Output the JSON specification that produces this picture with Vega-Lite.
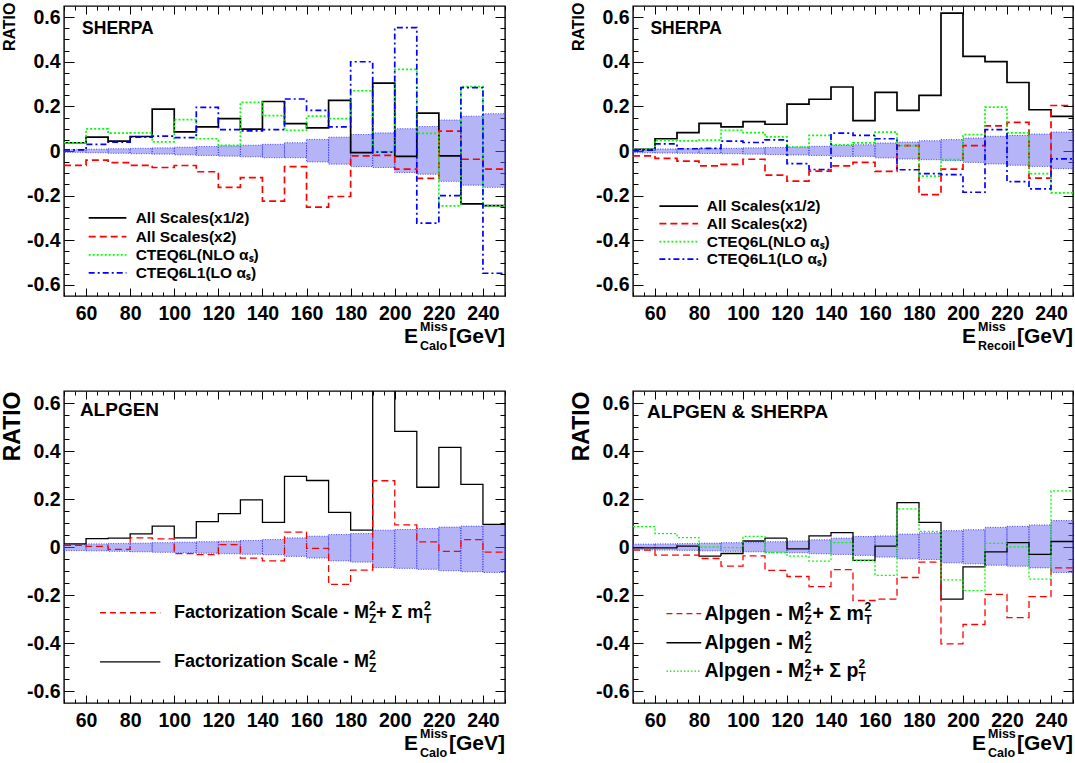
{
  "$schema": "https://vega.github.io/schema/vega-lite/v6.json",
  "background": "white",
  "padding": {"left": 0, "top": 1, "right": 0, "bottom": 0},
  "config": {
    "view": {"stroke": "#000000", "strokeWidth": 1.4},
    "axis": {"labelFont": "Liberation Sans", "labelFontWeight": "bold", "labelFontSize": 19.5, "labelColor": "#000000", "domain": false, "grid": false, "tickColor": "#000000", "tickWidth": 1, "titleFont": "Liberation Sans", "titleFontWeight": "bold", "titleColor": "#000000"},
    "text": {"font": "Liberation Sans", "fontWeight": "bold", "color": "#000000"},
    "style": {
      "pa": {"fontSize": 17.5, "align": "left", "baseline": "middle"},
      "pb": {"fontSize": 19, "align": "left", "baseline": "middle"},
      "la": {"fontSize": 15.5, "align": "left", "baseline": "middle"},
      "lb": {"fontSize": 18, "align": "left", "baseline": "middle"},
      "lc": {"fontSize": 19.5, "align": "left", "baseline": "middle"},
      "ls": {"fontSize": 12, "align": "left", "baseline": "middle"},
      "xb": {"fontSize": 21, "baseline": "alphabetic"},
      "xs": {"fontSize": 12.5, "baseline": "alphabetic", "align": "left"}
    }
  },
  "datasets": {
    "tl": [
      {"e": 50, "e2": 60, "k": 0.037, "r": -0.064, "g": 0.037, "b": 0.005, "lo": -0.006, "hi": 0.006},
      {"e": 60, "e2": 70, "k": 0.062, "r": -0.041, "g": 0.099, "b": 0.030, "lo": -0.008, "hi": 0.008},
      {"e": 70, "e2": 80, "k": 0.044, "r": -0.052, "g": 0.080, "b": 0.040, "lo": -0.010, "hi": 0.010},
      {"e": 80, "e2": 90, "k": 0.065, "r": -0.064, "g": 0.081, "b": 0.062, "lo": -0.012, "hi": 0.012},
      {"e": 90, "e2": 100, "k": 0.188, "r": -0.074, "g": 0.041, "b": 0.067, "lo": -0.014, "hi": 0.014},
      {"e": 100, "e2": 110, "k": 0.086, "r": -0.065, "g": 0.141, "b": 0.060, "lo": -0.017, "hi": 0.017},
      {"e": 110, "e2": 120, "k": 0.108, "r": -0.093, "g": 0.055, "b": 0.196, "lo": -0.020, "hi": 0.020},
      {"e": 120, "e2": 130, "k": 0.145, "r": -0.163, "g": 0.025, "b": 0.096, "lo": -0.023, "hi": 0.023},
      {"e": 130, "e2": 140, "k": 0.098, "r": -0.119, "g": 0.218, "b": 0.090, "lo": -0.026, "hi": 0.026},
      {"e": 140, "e2": 150, "k": 0.222, "r": -0.225, "g": 0.159, "b": 0.096, "lo": -0.030, "hi": 0.030},
      {"e": 150, "e2": 160, "k": 0.123, "r": -0.070, "g": 0.093, "b": 0.233, "lo": -0.030, "hi": 0.037},
      {"e": 160, "e2": 170, "k": 0.104, "r": -0.252, "g": 0.156, "b": 0.182, "lo": -0.049, "hi": 0.052},
      {"e": 170, "e2": 180, "k": 0.227, "r": -0.204, "g": 0.145, "b": 0.108, "lo": -0.059, "hi": 0.062},
      {"e": 180, "e2": 190, "k": -0.007, "r": -0.022, "g": 0.270, "b": 0.400, "lo": -0.070, "hi": 0.074},
      {"e": 190, "e2": 200, "k": 0.304, "r": -0.020, "g": -0.003, "b": -0.005, "lo": -0.074, "hi": 0.081},
      {"e": 200, "e2": 210, "k": -0.024, "r": -0.081, "g": 0.366, "b": 0.553, "lo": -0.096, "hi": 0.100},
      {"e": 210, "e2": 220, "k": 0.170, "r": -0.123, "g": 0.079, "b": -0.323, "lo": -0.104, "hi": 0.110},
      {"e": 220, "e2": 230, "k": -0.022, "r": 0.089, "g": -0.246, "b": -0.200, "lo": -0.136, "hi": 0.139},
      {"e": 230, "e2": 240, "k": -0.237, "r": -0.037, "g": 0.289, "b": 0.284, "lo": -0.153, "hi": 0.156},
      {"e": 240, "e2": 250, "k": -0.245, "r": -0.081, "g": -0.246, "b": -0.548, "lo": -0.163, "hi": 0.167},
      {"e": 250, "k": -0.245, "r": -0.081, "g": -0.246, "b": -0.548}
    ],
    "tr": [
      {"e": 50, "e2": 60, "k": 0.007, "r": -0.022, "g": 0.007, "b": 0.004, "lo": -0.008, "hi": 0.008},
      {"e": 60, "e2": 70, "k": 0.055, "r": -0.033, "g": 0.048, "b": 0.032, "lo": -0.009, "hi": 0.009},
      {"e": 70, "e2": 80, "k": 0.082, "r": -0.045, "g": 0.045, "b": 0.010, "lo": -0.010, "hi": 0.010},
      {"e": 80, "e2": 90, "k": 0.124, "r": -0.067, "g": 0.049, "b": 0.012, "lo": -0.011, "hi": 0.011},
      {"e": 90, "e2": 100, "k": 0.108, "r": -0.060, "g": 0.093, "b": 0.044, "lo": -0.012, "hi": 0.012},
      {"e": 100, "e2": 110, "k": 0.132, "r": -0.037, "g": 0.082, "b": 0.038, "lo": -0.014, "hi": 0.014},
      {"e": 110, "e2": 120, "k": 0.120, "r": -0.108, "g": 0.063, "b": 0.050, "lo": -0.016, "hi": 0.016},
      {"e": 120, "e2": 130, "k": 0.210, "r": -0.135, "g": 0.018, "b": -0.057, "lo": -0.018, "hi": 0.018},
      {"e": 130, "e2": 140, "k": 0.232, "r": -0.090, "g": 0.070, "b": -0.083, "lo": -0.020, "hi": 0.021},
      {"e": 140, "e2": 150, "k": 0.287, "r": -0.067, "g": 0.028, "b": 0.080, "lo": -0.024, "hi": 0.025},
      {"e": 150, "e2": 160, "k": 0.136, "r": -0.051, "g": 0.036, "b": 0.070, "lo": -0.024, "hi": 0.028},
      {"e": 160, "e2": 170, "k": 0.263, "r": -0.091, "g": 0.085, "b": 0.055, "lo": -0.031, "hi": 0.036},
      {"e": 170, "e2": 180, "k": 0.182, "r": 0.024, "g": 0.024, "b": -0.084, "lo": -0.036, "hi": 0.040},
      {"e": 180, "e2": 190, "k": 0.249, "r": -0.196, "g": -0.113, "b": -0.101, "lo": -0.039, "hi": 0.046},
      {"e": 190, "e2": 200, "k": 0.618, "r": -0.081, "g": -0.039, "b": -0.106, "lo": -0.043, "hi": 0.051},
      {"e": 200, "e2": 210, "k": 0.424, "r": 0.024, "g": 0.073, "b": -0.185, "lo": -0.051, "hi": 0.058},
      {"e": 210, "e2": 220, "k": 0.401, "r": 0.113, "g": 0.197, "b": 0.096, "lo": -0.058, "hi": 0.066},
      {"e": 220, "e2": 230, "k": 0.307, "r": 0.128, "g": 0.081, "b": -0.137, "lo": -0.064, "hi": 0.070},
      {"e": 230, "e2": 240, "k": 0.185, "r": -0.122, "g": -0.101, "b": -0.170, "lo": -0.069, "hi": 0.076},
      {"e": 240, "e2": 250, "k": 0.155, "r": 0.204, "g": -0.188, "b": -0.035, "lo": -0.079, "hi": 0.085},
      {"e": 250, "k": 0.155, "r": 0.204, "g": -0.188, "b": -0.035}
    ],
    "bl": [
      {"e": 50, "e2": 60, "k": 0.013, "r": 0.007, "lo": -0.015, "hi": 0.012},
      {"e": 60, "e2": 70, "k": 0.035, "r": 0.003, "lo": -0.016, "hi": 0.013},
      {"e": 70, "e2": 80, "k": 0.037, "r": -0.010, "lo": -0.018, "hi": 0.015},
      {"e": 80, "e2": 90, "k": 0.055, "r": 0.038, "lo": -0.020, "hi": 0.016},
      {"e": 90, "e2": 100, "k": 0.087, "r": 0.034, "lo": -0.022, "hi": 0.018},
      {"e": 100, "e2": 110, "k": 0.038, "r": -0.028, "lo": -0.024, "hi": 0.020},
      {"e": 110, "e2": 120, "k": 0.106, "r": -0.032, "lo": -0.026, "hi": 0.022},
      {"e": 120, "e2": 130, "k": 0.139, "r": 0.010, "lo": -0.028, "hi": 0.024},
      {"e": 130, "e2": 140, "k": 0.196, "r": -0.046, "lo": -0.030, "hi": 0.027},
      {"e": 140, "e2": 150, "k": 0.103, "r": -0.058, "lo": -0.032, "hi": 0.031},
      {"e": 150, "e2": 160, "k": 0.294, "r": 0.062, "lo": -0.039, "hi": 0.038},
      {"e": 160, "e2": 170, "k": 0.277, "r": -0.006, "lo": -0.046, "hi": 0.045},
      {"e": 170, "e2": 180, "k": 0.144, "r": -0.156, "lo": -0.058, "hi": 0.052},
      {"e": 180, "e2": 190, "k": 0.070, "r": -0.096, "lo": -0.063, "hi": 0.056},
      {"e": 190, "e2": 200, "k": 0.700, "r": 0.276, "lo": -0.086, "hi": 0.070},
      {"e": 200, "e2": 210, "k": 0.482, "r": 0.092, "lo": -0.089, "hi": 0.073},
      {"e": 210, "e2": 220, "k": 0.249, "r": 0.021, "lo": -0.093, "hi": 0.077},
      {"e": 220, "e2": 230, "k": 0.415, "r": -0.018, "lo": -0.099, "hi": 0.083},
      {"e": 230, "e2": 240, "k": 0.261, "r": 0.031, "lo": -0.103, "hi": 0.087},
      {"e": 240, "e2": 250, "k": 0.094, "r": -0.021, "lo": -0.106, "hi": 0.094},
      {"e": 250, "k": 0.094, "r": -0.021}
    ],
    "br": [
      {"e": 50, "e2": 60, "k": -0.004, "r": -0.013, "g": 0.085, "lo": -0.012, "hi": 0.012},
      {"e": 60, "e2": 70, "k": -0.004, "r": -0.034, "g": 0.056, "lo": -0.013, "hi": 0.013},
      {"e": 70, "e2": 80, "k": 0.004, "r": -0.034, "g": 0.039, "lo": -0.014, "hi": 0.014},
      {"e": 80, "e2": 90, "k": -0.038, "r": -0.048, "g": 0.000, "lo": -0.016, "hi": 0.016},
      {"e": 90, "e2": 100, "k": -0.027, "r": -0.080, "g": -0.003, "lo": -0.018, "hi": 0.018},
      {"e": 100, "e2": 110, "k": 0.025, "r": -0.037, "g": 0.044, "lo": -0.020, "hi": 0.020},
      {"e": 110, "e2": 120, "k": 0.037, "r": -0.097, "g": -0.024, "lo": -0.022, "hi": 0.022},
      {"e": 120, "e2": 130, "k": -0.008, "r": -0.123, "g": -0.038, "lo": -0.024, "hi": 0.025},
      {"e": 130, "e2": 140, "k": 0.046, "r": -0.165, "g": -0.059, "lo": -0.028, "hi": 0.030},
      {"e": 140, "e2": 150, "k": 0.060, "r": -0.094, "g": 0.018, "lo": -0.031, "hi": 0.037},
      {"e": 150, "e2": 160, "k": -0.056, "r": -0.223, "g": -0.056, "lo": -0.035, "hi": 0.044},
      {"e": 160, "e2": 170, "k": 0.004, "r": -0.217, "g": -0.118, "lo": -0.042, "hi": 0.046},
      {"e": 170, "e2": 180, "k": 0.185, "r": -0.127, "g": 0.159, "lo": -0.049, "hi": 0.054},
      {"e": 180, "e2": 190, "k": 0.103, "r": -0.063, "g": 0.065, "lo": -0.052, "hi": 0.059},
      {"e": 190, "e2": 200, "k": -0.217, "r": -0.404, "g": -0.137, "lo": -0.066, "hi": 0.068},
      {"e": 200, "e2": 210, "k": -0.083, "r": -0.323, "g": -0.182, "lo": -0.070, "hi": 0.072},
      {"e": 210, "e2": 220, "k": -0.020, "r": -0.197, "g": 0.015, "lo": -0.076, "hi": 0.082},
      {"e": 220, "e2": 230, "k": 0.018, "r": -0.294, "g": 0.000, "lo": -0.080, "hi": 0.086},
      {"e": 230, "e2": 240, "k": -0.031, "r": -0.207, "g": -0.134, "lo": -0.087, "hi": 0.092},
      {"e": 240, "e2": 250, "k": 0.023, "r": -0.087, "g": 0.234, "lo": -0.106, "hi": 0.110},
      {"e": 250, "k": 0.023, "r": -0.087, "g": 0.234}
    ]
  },
  "columns": 2,
  "align": "none",
  "spacing": {"row": 35, "column": 62},
  "concat": [
    {
      "width": 441,
      "height": 290,
      "resolve": {"axis": {"x": "independent", "y": "independent"}},
      "layer": [
        {
          "data": {"name": "tl"},
          "transform": [{"filter": "isValid(datum.lo)"}],
          "mark": {"type": "rect", "fill": "#6a6aee", "fillOpacity": 0.5, "stroke": "#1f1fff", "strokeWidth": 0.8, "strokeDash": [1, 1.5]},
          "encoding": {
            "x": {"field": "e", "type": "quantitative", "scale": {"domain": [50, 250], "nice": false, "zero": false},
              "axis": {"orient": "bottom", "values": [50,55,60,65,70,75,80,85,90,95,100,105,110,115,120,125,130,135,140,145,150,155,160,165,170,175,180,185,190,195,200,205,210,215,220,225,230,235,240,245,250], "labelExpr": "datum.value % 20 === 0 ? datum.label : ''", "tickSize": {"condition": {"test": "datum.value % 20 === 0", "value": -8}, "value": -4}, "labelPadding": 16, "labelOverlap": false, "labelFlush": false, "title": null}},
            "x2": {"field": "e2"},
            "y": {"field": "lo", "type": "quantitative", "scale": {"domain": [-0.65, 0.65], "nice": false, "zero": false},
              "axis": {"orient": "left", "values": [-0.6,-0.55,-0.5,-0.45,-0.4,-0.35,-0.3,-0.25,-0.2,-0.15,-0.1,-0.05,0,0.05,0.1,0.15,0.2,0.25,0.3,0.35,0.4,0.45,0.5,0.55,0.6], "labelExpr": "round(datum.value * 100) % 20 === 0 ? (datum.value === 0 ? '0' : (datum.value < 0 ? '-' : '') + format(abs(datum.value), '.1f')) : ''", "tickSize": {"condition": {"test": "round(datum.value * 100) % 20 === 0", "value": -10}, "value": -5}, "labelPadding": 14, "labelOverlap": false, "labelFlush": false, "title": "RATIO", "titleFontSize": 16, "titleAnchor": "end", "titlePadding": 9, "titleY": -4}},
            "y2": {"field": "hi"}
          }
        },
        {
          "data": {"name": "tl"},
          "transform": [{"fold": ["k", "r", "g", "b"], "as": ["s", "v"]}],
          "mark": {"type": "line", "interpolate": "step-after", "clip": true, "strokeWidth": 1.7},
          "encoding": {
            "x": {"field": "e", "type": "quantitative", "scale": {"domain": [50, 250], "nice": false, "zero": false},
              "axis": {"orient": "top", "values": [50,55,60,65,70,75,80,85,90,95,100,105,110,115,120,125,130,135,140,145,150,155,160,165,170,175,180,185,190,195,200,205,210,215,220,225,230,235,240,245,250], "labels": false, "title": null, "tickSize": {"condition": {"test": "datum.value % 20 === 0", "value": -8}, "value": -4}}},
            "y": {"field": "v", "type": "quantitative", "scale": {"domain": [-0.65, 0.65], "nice": false, "zero": false},
              "axis": {"orient": "right", "values": [-0.6,-0.55,-0.5,-0.45,-0.4,-0.35,-0.3,-0.25,-0.2,-0.15,-0.1,-0.05,0,0.05,0.1,0.15,0.2,0.25,0.3,0.35,0.4,0.45,0.5,0.55,0.6], "labels": false, "title": null, "tickSize": {"condition": {"test": "round(datum.value * 100) % 20 === 0", "value": -10}, "value": -5}}},
            "color": {"field": "s", "type": "nominal", "scale": {"domain": ["k", "r", "g", "b"], "range": ["#000000", "#ff0000", "#00ff00", "#0000ff"]}, "legend": null},
            "strokeDash": {"field": "s", "type": "nominal", "scale": {"domain": ["k", "r", "g", "b"], "range": [[1, 0], [7, 4], [2, 2], [6, 3, 2, 3]]}, "legend": null}
          }
        },
        {
          "data": {"values": [{}]},
          "layer": [
            {"mark": {"type": "text", "style": "pa", "text": "SHERPA"}, "encoding": {"x": {"datum": 58.2, "axis": null}, "y": {"datum": 0.547, "axis": null}}},
            {"mark": {"type": "rule", "color": "#000000", "strokeWidth": 1.7}, "encoding": {"x": {"datum": 61.2, "axis": null}, "x2": {"datum": 78.3}, "y": {"datum": -0.3, "axis": null}}},
            {"mark": {"type": "rule", "color": "#ff0000", "strokeWidth": 1.7, "strokeDash": [7, 4]}, "encoding": {"x": {"datum": 61.2, "axis": null}, "x2": {"datum": 78.3}, "y": {"datum": -0.384, "axis": null}}},
            {"mark": {"type": "rule", "color": "#00ff00", "strokeWidth": 1.7, "strokeDash": [2, 2]}, "encoding": {"x": {"datum": 61.2, "axis": null}, "x2": {"datum": 78.3}, "y": {"datum": -0.466, "axis": null}}},
            {"mark": {"type": "rule", "color": "#0000ff", "strokeWidth": 1.7, "strokeDash": [6, 3, 2, 3]}, "encoding": {"x": {"datum": 61.2, "axis": null}, "x2": {"datum": 78.3}, "y": {"datum": -0.546, "axis": null}}},
            {"mark": {"type": "text", "style": "la", "text": "All Scales(x1/2)"}, "encoding": {"x": {"datum": 82.5, "axis": null}, "y": {"datum": -0.3, "axis": null}}},
            {"mark": {"type": "text", "style": "la", "text": "All Scales(x2)"}, "encoding": {"x": {"datum": 82.5, "axis": null}, "y": {"datum": -0.384, "axis": null}}},
            {"mark": {"type": "text", "style": "la", "text": "CTEQ6L(NLO αₛ)"}, "encoding": {"x": {"datum": 82.5, "axis": null}, "y": {"datum": -0.466, "axis": null}}},
            {"mark": {"type": "text", "style": "la", "text": "CTEQ6L1(LO αₛ)"}, "encoding": {"x": {"datum": 82.5, "axis": null}, "y": {"datum": -0.546, "axis": null}}},
            {"mark": {"type": "text", "style": "xb", "text": "[GeV]", "align": "right", "dy": 47}, "encoding": {"x": {"datum": 250, "axis": null}, "y": {"datum": -0.65, "axis": null}}},
            {"mark": {"type": "text", "style": "xs", "text": "Miss", "dx": -85, "dy": 35}, "encoding": {"x": {"datum": 250, "axis": null}, "y": {"datum": -0.65, "axis": null}}},
            {"mark": {"type": "text", "style": "xs", "text": "Calo", "dx": -85, "dy": 54}, "encoding": {"x": {"datum": 250, "axis": null}, "y": {"datum": -0.65, "axis": null}}},
            {"mark": {"type": "text", "style": "xb", "text": "E", "align": "right", "dx": -87, "dy": 47}, "encoding": {"x": {"datum": 250, "axis": null}, "y": {"datum": -0.65, "axis": null}}}
          ]
        }
      ]
    },
    {
      "width": 440,
      "height": 290,
      "resolve": {"axis": {"x": "independent", "y": "independent"}},
      "layer": [
        {
          "data": {"name": "tr"},
          "transform": [{"filter": "isValid(datum.lo)"}],
          "mark": {"type": "rect", "fill": "#6a6aee", "fillOpacity": 0.5, "stroke": "#1f1fff", "strokeWidth": 0.8, "strokeDash": [1, 1.5]},
          "encoding": {
            "x": {"field": "e", "type": "quantitative", "scale": {"domain": [50, 250], "nice": false, "zero": false},
              "axis": {"orient": "bottom", "values": [50,55,60,65,70,75,80,85,90,95,100,105,110,115,120,125,130,135,140,145,150,155,160,165,170,175,180,185,190,195,200,205,210,215,220,225,230,235,240,245,250], "labelExpr": "datum.value % 20 === 0 ? datum.label : ''", "tickSize": {"condition": {"test": "datum.value % 20 === 0", "value": -8}, "value": -4}, "labelPadding": 16, "labelOverlap": false, "labelFlush": false, "title": null}},
            "x2": {"field": "e2"},
            "y": {"field": "lo", "type": "quantitative", "scale": {"domain": [-0.65, 0.65], "nice": false, "zero": false},
              "axis": {"orient": "left", "values": [-0.6,-0.55,-0.5,-0.45,-0.4,-0.35,-0.3,-0.25,-0.2,-0.15,-0.1,-0.05,0,0.05,0.1,0.15,0.2,0.25,0.3,0.35,0.4,0.45,0.5,0.55,0.6], "labelExpr": "round(datum.value * 100) % 20 === 0 ? (datum.value === 0 ? '0' : (datum.value < 0 ? '-' : '') + format(abs(datum.value), '.1f')) : ''", "tickSize": {"condition": {"test": "round(datum.value * 100) % 20 === 0", "value": -10}, "value": -5}, "labelPadding": 14, "labelOverlap": false, "labelFlush": false, "title": "RATIO", "titleFontSize": 16, "titleAnchor": "end", "titlePadding": 9, "titleY": -4}},
            "y2": {"field": "hi"}
          }
        },
        {
          "data": {"name": "tr"},
          "transform": [{"fold": ["k", "r", "g", "b"], "as": ["s", "v"]}],
          "mark": {"type": "line", "interpolate": "step-after", "clip": true, "strokeWidth": 1.7},
          "encoding": {
            "x": {"field": "e", "type": "quantitative", "scale": {"domain": [50, 250], "nice": false, "zero": false},
              "axis": {"orient": "top", "values": [50,55,60,65,70,75,80,85,90,95,100,105,110,115,120,125,130,135,140,145,150,155,160,165,170,175,180,185,190,195,200,205,210,215,220,225,230,235,240,245,250], "labels": false, "title": null, "tickSize": {"condition": {"test": "datum.value % 20 === 0", "value": -8}, "value": -4}}},
            "y": {"field": "v", "type": "quantitative", "scale": {"domain": [-0.65, 0.65], "nice": false, "zero": false},
              "axis": {"orient": "right", "values": [-0.6,-0.55,-0.5,-0.45,-0.4,-0.35,-0.3,-0.25,-0.2,-0.15,-0.1,-0.05,0,0.05,0.1,0.15,0.2,0.25,0.3,0.35,0.4,0.45,0.5,0.55,0.6], "labels": false, "title": null, "tickSize": {"condition": {"test": "round(datum.value * 100) % 20 === 0", "value": -10}, "value": -5}}},
            "color": {"field": "s", "type": "nominal", "scale": {"domain": ["k", "r", "g", "b"], "range": ["#000000", "#ff0000", "#00ff00", "#0000ff"]}, "legend": null},
            "strokeDash": {"field": "s", "type": "nominal", "scale": {"domain": ["k", "r", "g", "b"], "range": [[1, 0], [7, 4], [2, 2], [6, 3, 2, 3]]}, "legend": null}
          }
        },
        {
          "data": {"values": [{}]},
          "layer": [
            {"mark": {"type": "text", "style": "pa", "text": "SHERPA"}, "encoding": {"x": {"datum": 57.9, "axis": null}, "y": {"datum": 0.545, "axis": null}}},
            {"mark": {"type": "rule", "color": "#000000", "strokeWidth": 1.7}, "encoding": {"x": {"datum": 62, "axis": null}, "x2": {"datum": 79.6}, "y": {"datum": -0.247, "axis": null}}},
            {"mark": {"type": "rule", "color": "#ff0000", "strokeWidth": 1.7, "strokeDash": [7, 4]}, "encoding": {"x": {"datum": 62, "axis": null}, "x2": {"datum": 79.6}, "y": {"datum": -0.326, "axis": null}}},
            {"mark": {"type": "rule", "color": "#00ff00", "strokeWidth": 1.7, "strokeDash": [2, 2]}, "encoding": {"x": {"datum": 62, "axis": null}, "x2": {"datum": 79.6}, "y": {"datum": -0.406, "axis": null}}},
            {"mark": {"type": "rule", "color": "#0000ff", "strokeWidth": 1.7, "strokeDash": [6, 3, 2, 3]}, "encoding": {"x": {"datum": 62, "axis": null}, "x2": {"datum": 79.6}, "y": {"datum": -0.485, "axis": null}}},
            {"mark": {"type": "text", "style": "la", "text": "All Scales(x1/2)"}, "encoding": {"x": {"datum": 83.5, "axis": null}, "y": {"datum": -0.247, "axis": null}}},
            {"mark": {"type": "text", "style": "la", "text": "All Scales(x2)"}, "encoding": {"x": {"datum": 83.5, "axis": null}, "y": {"datum": -0.326, "axis": null}}},
            {"mark": {"type": "text", "style": "la", "text": "CTEQ6L(NLO αₛ)"}, "encoding": {"x": {"datum": 83.5, "axis": null}, "y": {"datum": -0.406, "axis": null}}},
            {"mark": {"type": "text", "style": "la", "text": "CTEQ6L1(LO αₛ)"}, "encoding": {"x": {"datum": 83.5, "axis": null}, "y": {"datum": -0.485, "axis": null}}},
            {"mark": {"type": "text", "style": "xb", "text": "[GeV]", "align": "right", "dy": 47}, "encoding": {"x": {"datum": 250, "axis": null}, "y": {"datum": -0.65, "axis": null}}},
            {"mark": {"type": "text", "style": "xs", "text": "Miss", "dx": -95, "dy": 35}, "encoding": {"x": {"datum": 250, "axis": null}, "y": {"datum": -0.65, "axis": null}}},
            {"mark": {"type": "text", "style": "xs", "text": "Recoil", "dx": -95, "dy": 54}, "encoding": {"x": {"datum": 250, "axis": null}, "y": {"datum": -0.65, "axis": null}}},
            {"mark": {"type": "text", "style": "xb", "text": "E", "align": "right", "dx": -97, "dy": 47}, "encoding": {"x": {"datum": 250, "axis": null}, "y": {"datum": -0.65, "axis": null}}}
          ]
        }
      ]
    },
    {
      "width": 441,
      "height": 312,
      "resolve": {"axis": {"x": "independent", "y": "independent"}},
      "layer": [
        {
          "data": {"name": "bl"},
          "transform": [{"filter": "isValid(datum.lo)"}],
          "mark": {"type": "rect", "fill": "#6a6aee", "fillOpacity": 0.5, "stroke": "#1f1fff", "strokeWidth": 0.8, "strokeDash": [1, 1.5]},
          "encoding": {
            "x": {"field": "e", "type": "quantitative", "scale": {"domain": [50, 250], "nice": false, "zero": false},
              "axis": {"orient": "bottom", "values": [50,55,60,65,70,75,80,85,90,95,100,105,110,115,120,125,130,135,140,145,150,155,160,165,170,175,180,185,190,195,200,205,210,215,220,225,230,235,240,245,250], "labelExpr": "datum.value % 20 === 0 ? datum.label : ''", "tickSize": {"condition": {"test": "datum.value % 20 === 0", "value": -8}, "value": -4}, "labelPadding": 16, "labelOverlap": false, "labelFlush": false, "title": null}},
            "x2": {"field": "e2"},
            "y": {"field": "lo", "type": "quantitative", "scale": {"domain": [-0.65, 0.65], "nice": false, "zero": false},
              "axis": {"orient": "left", "values": [-0.6,-0.55,-0.5,-0.45,-0.4,-0.35,-0.3,-0.25,-0.2,-0.15,-0.1,-0.05,0,0.05,0.1,0.15,0.2,0.25,0.3,0.35,0.4,0.45,0.5,0.55,0.6], "labelExpr": "round(datum.value * 100) % 20 === 0 ? (datum.value === 0 ? '0' : (datum.value < 0 ? '-' : '') + format(abs(datum.value), '.1f')) : ''", "tickSize": {"condition": {"test": "round(datum.value * 100) % 20 === 0", "value": -10}, "value": -5}, "labelPadding": 14, "labelOverlap": false, "labelFlush": false, "title": "RATIO", "titleFontSize": 23, "titleAnchor": "end", "titlePadding": 2}},
            "y2": {"field": "hi"}
          }
        },
        {
          "data": {"name": "bl"},
          "transform": [{"fold": ["k", "r"], "as": ["s", "v"]}],
          "mark": {"type": "line", "interpolate": "step-after", "clip": true, "strokeWidth": 1.3},
          "encoding": {
            "x": {"field": "e", "type": "quantitative", "scale": {"domain": [50, 250], "nice": false, "zero": false},
              "axis": {"orient": "top", "values": [50,55,60,65,70,75,80,85,90,95,100,105,110,115,120,125,130,135,140,145,150,155,160,165,170,175,180,185,190,195,200,205,210,215,220,225,230,235,240,245,250], "labels": false, "title": null, "tickSize": {"condition": {"test": "datum.value % 20 === 0", "value": -8}, "value": -4}}},
            "y": {"field": "v", "type": "quantitative", "scale": {"domain": [-0.65, 0.65], "nice": false, "zero": false},
              "axis": {"orient": "right", "values": [-0.6,-0.55,-0.5,-0.45,-0.4,-0.35,-0.3,-0.25,-0.2,-0.15,-0.1,-0.05,0,0.05,0.1,0.15,0.2,0.25,0.3,0.35,0.4,0.45,0.5,0.55,0.6], "labels": false, "title": null, "tickSize": {"condition": {"test": "round(datum.value * 100) % 20 === 0", "value": -10}, "value": -5}}},
            "color": {"field": "s", "type": "nominal", "scale": {"domain": ["r", "k"], "range": ["#ff0000", "#000000"]}, "legend": null},
            "strokeDash": {"field": "s", "type": "nominal", "scale": {"domain": ["r", "k"], "range": [[6, 4], [1, 0]]}, "legend": null}
          }
        },
        {
          "data": {"values": [{}]},
          "layer": [
            {"mark": {"type": "text", "style": "pb", "text": "ALPGEN"}, "encoding": {"x": {"datum": 57.2, "axis": null}, "y": {"datum": 0.571, "axis": null}}},
            {"mark": {"type": "rule", "color": "#ff0000", "strokeWidth": 1.3, "strokeDash": [6, 4]}, "encoding": {"x": {"datum": 66.3, "axis": null}, "x2": {"datum": 93.7}, "y": {"datum": -0.274, "axis": null}}},
            {"mark": {"type": "text", "style": "lb", "text": "Factorization Scale - M"}, "encoding": {"x": {"datum": 99.9, "axis": null}, "y": {"datum": -0.274, "axis": null}}},
            {"mark": {"type": "text", "style": "ls", "text": "Z", "dx": 195, "dy": 6}, "encoding": {"x": {"datum": 99.9, "axis": null}, "y": {"datum": -0.274, "axis": null}}},
            {"mark": {"type": "text", "style": "ls", "text": "2", "dx": 195, "dy": -7}, "encoding": {"x": {"datum": 99.9, "axis": null}, "y": {"datum": -0.274, "axis": null}}},
            {"mark": {"type": "text", "style": "lb", "text": "+ Σ m", "dx": 202}, "encoding": {"x": {"datum": 99.9, "axis": null}, "y": {"datum": -0.274, "axis": null}}},
            {"mark": {"type": "text", "style": "ls", "text": "T", "dx": 250, "dy": 6}, "encoding": {"x": {"datum": 99.9, "axis": null}, "y": {"datum": -0.274, "axis": null}}},
            {"mark": {"type": "text", "style": "ls", "text": "2", "dx": 250, "dy": -7}, "encoding": {"x": {"datum": 99.9, "axis": null}, "y": {"datum": -0.274, "axis": null}}},
            {"mark": {"type": "rule", "color": "#000000", "strokeWidth": 1.3}, "encoding": {"x": {"datum": 66.3, "axis": null}, "x2": {"datum": 93.7}, "y": {"datum": -0.479, "axis": null}}},
            {"mark": {"type": "text", "style": "lb", "text": "Factorization Scale - M"}, "encoding": {"x": {"datum": 99.9, "axis": null}, "y": {"datum": -0.479, "axis": null}}},
            {"mark": {"type": "text", "style": "ls", "text": "Z", "dx": 195, "dy": 6}, "encoding": {"x": {"datum": 99.9, "axis": null}, "y": {"datum": -0.479, "axis": null}}},
            {"mark": {"type": "text", "style": "ls", "text": "2", "dx": 195, "dy": -7}, "encoding": {"x": {"datum": 99.9, "axis": null}, "y": {"datum": -0.479, "axis": null}}},
            {"mark": {"type": "text", "style": "xb", "text": "[GeV]", "align": "right", "dy": 47}, "encoding": {"x": {"datum": 250, "axis": null}, "y": {"datum": -0.65, "axis": null}}},
            {"mark": {"type": "text", "style": "xs", "text": "Miss", "dx": -85, "dy": 35}, "encoding": {"x": {"datum": 250, "axis": null}, "y": {"datum": -0.65, "axis": null}}},
            {"mark": {"type": "text", "style": "xs", "text": "Calo", "dx": -85, "dy": 54}, "encoding": {"x": {"datum": 250, "axis": null}, "y": {"datum": -0.65, "axis": null}}},
            {"mark": {"type": "text", "style": "xb", "text": "E", "align": "right", "dx": -87, "dy": 47}, "encoding": {"x": {"datum": 250, "axis": null}, "y": {"datum": -0.65, "axis": null}}}
          ]
        }
      ]
    },
    {
      "width": 440,
      "height": 312,
      "resolve": {"axis": {"x": "independent", "y": "independent"}},
      "layer": [
        {
          "data": {"name": "br"},
          "transform": [{"filter": "isValid(datum.lo)"}],
          "mark": {"type": "rect", "fill": "#6a6aee", "fillOpacity": 0.5, "stroke": "#1f1fff", "strokeWidth": 0.8, "strokeDash": [1, 1.5]},
          "encoding": {
            "x": {"field": "e", "type": "quantitative", "scale": {"domain": [50, 250], "nice": false, "zero": false},
              "axis": {"orient": "bottom", "values": [50,55,60,65,70,75,80,85,90,95,100,105,110,115,120,125,130,135,140,145,150,155,160,165,170,175,180,185,190,195,200,205,210,215,220,225,230,235,240,245,250], "labelExpr": "datum.value % 20 === 0 ? datum.label : ''", "tickSize": {"condition": {"test": "datum.value % 20 === 0", "value": -8}, "value": -4}, "labelPadding": 16, "labelOverlap": false, "labelFlush": false, "title": null}},
            "x2": {"field": "e2"},
            "y": {"field": "lo", "type": "quantitative", "scale": {"domain": [-0.65, 0.65], "nice": false, "zero": false},
              "axis": {"orient": "left", "values": [-0.6,-0.55,-0.5,-0.45,-0.4,-0.35,-0.3,-0.25,-0.2,-0.15,-0.1,-0.05,0,0.05,0.1,0.15,0.2,0.25,0.3,0.35,0.4,0.45,0.5,0.55,0.6], "labelExpr": "round(datum.value * 100) % 20 === 0 ? (datum.value === 0 ? '0' : (datum.value < 0 ? '-' : '') + format(abs(datum.value), '.1f')) : ''", "tickSize": {"condition": {"test": "round(datum.value * 100) % 20 === 0", "value": -10}, "value": -5}, "labelPadding": 14, "labelOverlap": false, "labelFlush": false, "title": "RATIO", "titleFontSize": 23, "titleAnchor": "end", "titlePadding": 2}},
            "y2": {"field": "hi"}
          }
        },
        {
          "data": {"name": "br"},
          "transform": [{"fold": ["k", "r", "g"], "as": ["s", "v"]}],
          "mark": {"type": "line", "interpolate": "step-after", "clip": true, "strokeWidth": 1.3},
          "encoding": {
            "x": {"field": "e", "type": "quantitative", "scale": {"domain": [50, 250], "nice": false, "zero": false},
              "axis": {"orient": "top", "values": [50,55,60,65,70,75,80,85,90,95,100,105,110,115,120,125,130,135,140,145,150,155,160,165,170,175,180,185,190,195,200,205,210,215,220,225,230,235,240,245,250], "labels": false, "title": null, "tickSize": {"condition": {"test": "datum.value % 20 === 0", "value": -8}, "value": -4}}},
            "y": {"field": "v", "type": "quantitative", "scale": {"domain": [-0.65, 0.65], "nice": false, "zero": false},
              "axis": {"orient": "right", "values": [-0.6,-0.55,-0.5,-0.45,-0.4,-0.35,-0.3,-0.25,-0.2,-0.15,-0.1,-0.05,0,0.05,0.1,0.15,0.2,0.25,0.3,0.35,0.4,0.45,0.5,0.55,0.6], "labels": false, "title": null, "tickSize": {"condition": {"test": "round(datum.value * 100) % 20 === 0", "value": -10}, "value": -5}}},
            "color": {"field": "s", "type": "nominal", "scale": {"domain": ["r", "k", "g"], "range": ["#ff0000", "#000000", "#00dd00"]}, "legend": null},
            "strokeDash": {"field": "s", "type": "nominal", "scale": {"domain": ["r", "k", "g"], "range": [[6, 4], [1, 0], [1.5, 2]]}, "legend": null}
          }
        },
        {
          "data": {"values": [{}]},
          "layer": [
            {"mark": {"type": "text", "style": "pb", "text": "ALPGEN & SHERPA"}, "encoding": {"x": {"datum": 56.4, "axis": null}, "y": {"datum": 0.5625, "axis": null}}},
            {"mark": {"type": "rule", "color": "#ff0000", "strokeWidth": 1.3, "strokeDash": [6, 4]}, "encoding": {"x": {"datum": 65.2, "axis": null}, "x2": {"datum": 81}, "y": {"datum": -0.278, "axis": null}}},
            {"mark": {"type": "text", "style": "lc", "text": "Alpgen - M"}, "encoding": {"x": {"datum": 82.5, "axis": null}, "y": {"datum": -0.278, "axis": null}}},
            {"mark": {"type": "text", "style": "ls", "text": "Z", "dx": 100, "dy": 6}, "encoding": {"x": {"datum": 82.5, "axis": null}, "y": {"datum": -0.278, "axis": null}}},
            {"mark": {"type": "text", "style": "ls", "text": "2", "dx": 100, "dy": -7}, "encoding": {"x": {"datum": 82.5, "axis": null}, "y": {"datum": -0.278, "axis": null}}},
            {"mark": {"type": "text", "style": "lc", "text": "+ Σ m", "dx": 108}, "encoding": {"x": {"datum": 82.5, "axis": null}, "y": {"datum": -0.278, "axis": null}}},
            {"mark": {"type": "text", "style": "ls", "text": "T", "dx": 160, "dy": 6}, "encoding": {"x": {"datum": 82.5, "axis": null}, "y": {"datum": -0.278, "axis": null}}},
            {"mark": {"type": "text", "style": "ls", "text": "2", "dx": 160, "dy": -7}, "encoding": {"x": {"datum": 82.5, "axis": null}, "y": {"datum": -0.278, "axis": null}}},
            {"mark": {"type": "rule", "color": "#000000", "strokeWidth": 1.3}, "encoding": {"x": {"datum": 65.2, "axis": null}, "x2": {"datum": 81}, "y": {"datum": -0.399, "axis": null}}},
            {"mark": {"type": "text", "style": "lc", "text": "Alpgen - M"}, "encoding": {"x": {"datum": 82.5, "axis": null}, "y": {"datum": -0.399, "axis": null}}},
            {"mark": {"type": "text", "style": "ls", "text": "Z", "dx": 100, "dy": 6}, "encoding": {"x": {"datum": 82.5, "axis": null}, "y": {"datum": -0.399, "axis": null}}},
            {"mark": {"type": "text", "style": "ls", "text": "2", "dx": 100, "dy": -7}, "encoding": {"x": {"datum": 82.5, "axis": null}, "y": {"datum": -0.399, "axis": null}}},
            {"mark": {"type": "rule", "color": "#00dd00", "strokeWidth": 1.3, "strokeDash": [1.5, 2]}, "encoding": {"x": {"datum": 65.2, "axis": null}, "x2": {"datum": 81}, "y": {"datum": -0.517, "axis": null}}},
            {"mark": {"type": "text", "style": "lc", "text": "Alpgen - M"}, "encoding": {"x": {"datum": 82.5, "axis": null}, "y": {"datum": -0.517, "axis": null}}},
            {"mark": {"type": "text", "style": "ls", "text": "Z", "dx": 100, "dy": 6}, "encoding": {"x": {"datum": 82.5, "axis": null}, "y": {"datum": -0.517, "axis": null}}},
            {"mark": {"type": "text", "style": "ls", "text": "2", "dx": 100, "dy": -7}, "encoding": {"x": {"datum": 82.5, "axis": null}, "y": {"datum": -0.517, "axis": null}}},
            {"mark": {"type": "text", "style": "lc", "text": "+ Σ p", "dx": 108}, "encoding": {"x": {"datum": 82.5, "axis": null}, "y": {"datum": -0.517, "axis": null}}},
            {"mark": {"type": "text", "style": "ls", "text": "T", "dx": 154, "dy": 6}, "encoding": {"x": {"datum": 82.5, "axis": null}, "y": {"datum": -0.517, "axis": null}}},
            {"mark": {"type": "text", "style": "ls", "text": "2", "dx": 154, "dy": -7}, "encoding": {"x": {"datum": 82.5, "axis": null}, "y": {"datum": -0.517, "axis": null}}},
            {"mark": {"type": "text", "style": "xb", "text": "[GeV]", "align": "right", "dy": 47}, "encoding": {"x": {"datum": 250, "axis": null}, "y": {"datum": -0.65, "axis": null}}},
            {"mark": {"type": "text", "style": "xs", "text": "Miss", "dx": -85, "dy": 35}, "encoding": {"x": {"datum": 250, "axis": null}, "y": {"datum": -0.65, "axis": null}}},
            {"mark": {"type": "text", "style": "xs", "text": "Calo", "dx": -85, "dy": 54}, "encoding": {"x": {"datum": 250, "axis": null}, "y": {"datum": -0.65, "axis": null}}},
            {"mark": {"type": "text", "style": "xb", "text": "E", "align": "right", "dx": -87, "dy": 47}, "encoding": {"x": {"datum": 250, "axis": null}, "y": {"datum": -0.65, "axis": null}}}
          ]
        }
      ]
    }
  ]
}
